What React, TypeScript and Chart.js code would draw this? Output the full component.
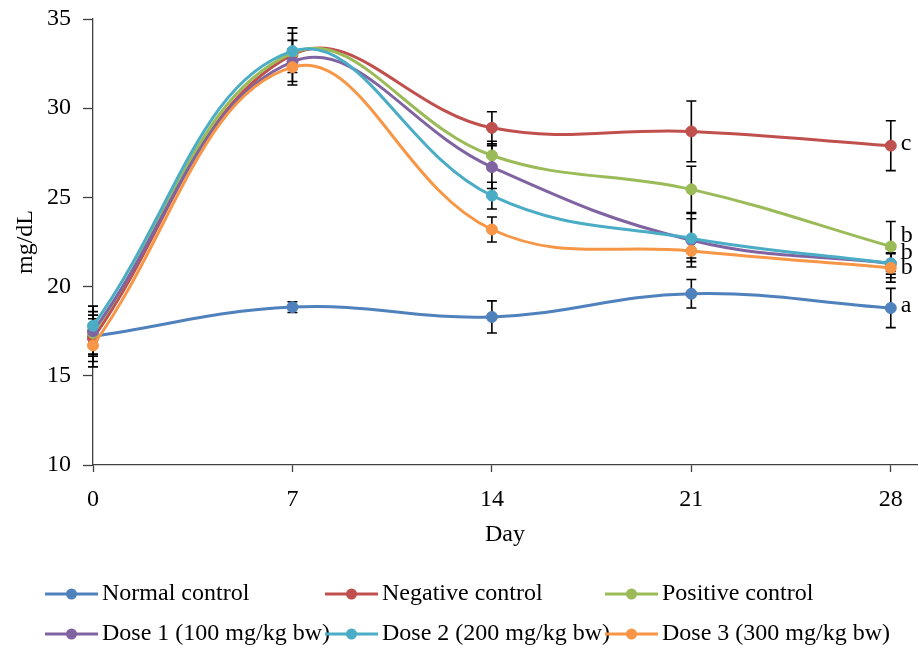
import React, { useEffect, useRef } from 'react';
import { Chart, registerables } from 'chart.js';

Chart.register(...registerables);

const FONT = "'Liberation Serif', 'Times New Roman', serif";

const DAYS = [0, 7, 14, 21, 28];
const Y_TICKS = [10, 15, 20, 25, 30, 35];

const SERIES_NAMES = [
  'Normal control',
  'Negative control',
  'Positive control',
  'Dose 1 (100 mg/kg bw)',
  'Dose 2 (200 mg/kg bw)',
  'Dose 3 (300 mg/kg bw)',
];
const SERIES_COLORS = ['#4F81BD', '#C0504D', '#9BBB59', '#8064A2', '#4BACC6', '#F79646'];

const NORMAL = [17.2, 18.85, 18.3, 19.6, 18.8];
const NEGATIVE = [17.1, 33.0, 28.9, 28.7, 27.9];
const POSITIVE = [17.4, 33.1, 27.35, 25.45, 22.25];
const DOSE1 = [17.5, 32.6, 26.7, 22.6, 21.3];
const DOSE2 = [17.8, 33.2, 25.1, 22.7, 21.3];
const DOSE3 = [16.7, 32.3, 23.2, 22.0, 21.05];

const NORMAL_ERR = [1.0, 0.3, 0.9, 0.8, 1.1];
const NEGATIVE_ERR = [1.3, 1.5, 0.9, 1.7, 1.4];
const POSITIVE_ERR = [1.2, 0.7, 0.8, 1.3, 1.4];
const DOSE1_ERR = [1.4, 0.6, 1.2, 1.5, 0.8];
const DOSE2_ERR = [1.1, 1.0, 0.75, 1.1, 0.6];
const DOSE3_ERR = [1.2, 1.0, 0.7, 0.6, 0.8];

const END_LETTERS = ['a', 'c', 'b', '', 'b', 'b'];
const END_LETTER_SHIFT = [-2, -2, -11, 0, -11, 0];

const VALUES = [NORMAL, NEGATIVE, POSITIVE, DOSE1, DOSE2, DOSE3];
const ERRORS = [NORMAL_ERR, NEGATIVE_ERR, POSITIVE_ERR, DOSE1_ERR, DOSE2_ERR, DOSE3_ERR];

export default function App() {
  const ref = useRef<HTMLCanvasElement>(null);

  useEffect(() => {
    if (!ref.current) return;

    const errorBars = {
      id: 'errorBars',
      beforeDatasetsDraw(chart: any) {
        const ctx = chart.ctx;
        const ys = chart.scales.y;
        ctx.save();
        ctx.strokeStyle = '#000';
        ctx.lineWidth = 1.6;
        chart.data.datasets.forEach((ds: any, i: number) => {
          const meta = chart.getDatasetMeta(i);
          ds.errors.forEach((e: number, j: number) => {
            const pt = meta.data[j];
            const v = ds.data[j].y;
            const yt = ys.getPixelForValue(v + e);
            const yb = ys.getPixelForValue(v - e);
            const x = pt.x;
            ctx.beginPath();
            ctx.moveTo(x, yt);
            ctx.lineTo(x, yb);
            ctx.moveTo(x - 5, yt);
            ctx.lineTo(x + 5, yt);
            ctx.moveTo(x - 5, yb);
            ctx.lineTo(x + 5, yb);
            ctx.stroke();
          });
        });
        ctx.restore();
      },
    };

    const endLabels = {
      id: 'endLabels',
      afterDatasetsDraw(chart: any) {
        const ctx = chart.ctx;
        ctx.save();
        ctx.font = `24px ${FONT}`;
        ctx.fillStyle = '#000';
        ctx.textBaseline = 'middle';
        ctx.textAlign = 'left';
        chart.data.datasets.forEach((ds: any, i: number) => {
          const meta = chart.getDatasetMeta(i);
          const last = meta.data[meta.data.length - 1];
          if (ds.letter) ctx.fillText(ds.letter, last.x + 10, last.y + ds.letterShift);
        });
        ctx.restore();
      },
    };

    const customLegend = {
      id: 'customLegend',
      afterDraw(chart: any) {
        const ctx = chart.ctx;
        ctx.save();
        ctx.font = `24px ${FONT}`;
        ctx.textBaseline = 'middle';
        ctx.textAlign = 'left';
        SERIES_NAMES.forEach((name, i) => {
          const col = i % 3;
          const row = Math.floor(i / 3);
          const x0 = 45 + col * 280;
          const y0 = 594 + row * 40;
          ctx.strokeStyle = SERIES_COLORS[i];
          ctx.fillStyle = SERIES_COLORS[i];
          ctx.lineWidth = 3;
          ctx.beginPath();
          ctx.moveTo(x0, y0);
          ctx.lineTo(x0 + 53, y0);
          ctx.stroke();
          ctx.beginPath();
          ctx.arc(x0 + 26.5, y0, 5.5, 0, Math.PI * 2);
          ctx.fill();
          ctx.fillStyle = '#000';
          ctx.fillText(name, x0 + 57, y0);
        });
        ctx.restore();
      },
    };

    const datasets = SERIES_NAMES.map((name, i) => ({
      label: name,
      data: DAYS.map((d, j) => ({ x: d, y: VALUES[i][j] })),
      errors: ERRORS[i],
      letter: END_LETTERS[i],
      letterShift: END_LETTER_SHIFT[i],
      borderColor: SERIES_COLORS[i],
      backgroundColor: SERIES_COLORS[i],
      pointBackgroundColor: SERIES_COLORS[i],
      pointBorderColor: SERIES_COLORS[i],
      pointRadius: 5.5,
      pointBorderWidth: 1,
      borderWidth: 3,
      tension: 0.4,
      fill: false,
      clip: 12,
      order: SERIES_NAMES.length - 1 - i,
    }));

    const chart = new Chart(ref.current, {
      type: 'line',
      data: { datasets } as any,
      plugins: [errorBars, endLabels, customLegend],
      options: {
        animation: false,
        responsive: false,
        maintainAspectRatio: false,
        layout: { autoPadding: false, padding: { top: 19, right: 2, bottom: 94, left: 0 } },
        plugins: {
          legend: { display: false },
          tooltip: { enabled: false },
        },
        scales: {
          x: {
            type: 'linear',
            min: 0,
            max: 28.92,
            afterFit(scale: any) {
              scale.height = 90;
              scale.paddingLeft = 0;
              scale.paddingRight = 0;
            },
            afterBuildTicks(scale: any) {
              scale.ticks = DAYS.map((v) => ({ value: v }));
            },
            ticks: {
              font: { family: FONT, size: 24 },
              color: '#000',
              padding: 13,
              maxRotation: 0,
              autoSkip: false,
            },
            grid: {
              display: true,
              drawOnChartArea: false,
              drawTicks: true,
              tickLength: 7,
              tickColor: '#404040',
              tickWidth: 1.3,
            },
            border: { display: true, color: '#404040', width: 1.3 },
            title: {
              display: true,
              text: 'Day',
              font: { family: FONT, size: 24 },
              color: '#000',
              padding: { top: 0, bottom: 6 },
            },
          },
          y: {
            type: 'linear',
            min: 10,
            max: 35,
            afterFit(scale: any) {
              scale.width = 93;
              scale.paddingTop = 0;
              scale.paddingBottom = 0;
            },
            afterBuildTicks(scale: any) {
              scale.ticks = Y_TICKS.map((v) => ({ value: v }));
            },
            ticks: {
              font: { family: FONT, size: 24 },
              color: '#000',
              padding: 12,
            },
            grid: {
              display: true,
              drawOnChartArea: false,
              drawTicks: true,
              tickLength: 10,
              tickColor: '#404040',
              tickWidth: 1.3,
            },
            border: { display: true, color: '#404040', width: 1.3 },
            title: {
              display: true,
              text: 'mg/dL',
              font: { family: FONT, size: 24 },
              color: '#000',
              padding: { top: 11, bottom: 0 },
            },
          },
        },
      } as any,
    });

    return () => chart.destroy();
  }, []);

  return (
    <canvas
      ref={ref}
      width={919}
      height={649}
      style={{ position: 'fixed', left: 0, top: 0, width: 919, height: 649, display: 'block', background: '#fff' }}
    />
  );
}
